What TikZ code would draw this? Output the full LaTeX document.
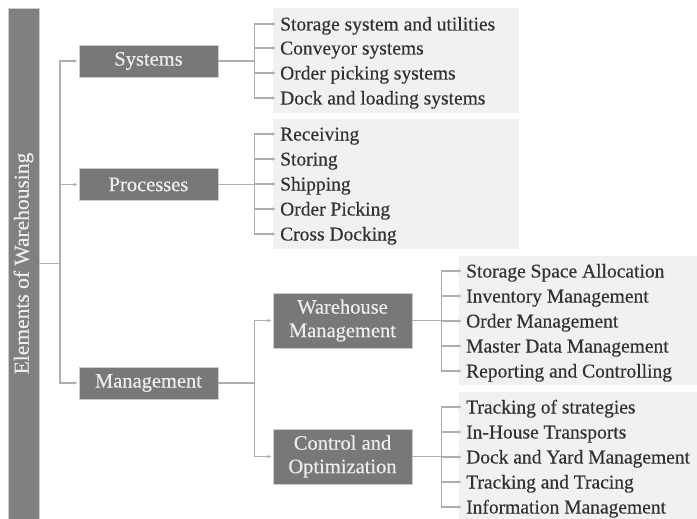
\documentclass[tikz,border=0pt]{standalone}
\usepackage{fontspec}
\setmainfont{Liberation Serif}[FakeBold=0.4]
\usetikzlibrary{positioning,arrows.meta}

\definecolor{boxgray}{RGB}{120,120,120}
\definecolor{bargray}{RGB}{128,128,128}
\definecolor{edgegray}{RGB}{205,205,205}
\definecolor{linegray}{RGB}{175,175,175}
\definecolor{panelgray}{RGB}{241,241,241}
\definecolor{textgray}{RGB}{50,50,50}

\begin{document}
\begin{tikzpicture}[x=1pt,y=-1pt]

% definizione stili
\tikzset{mybox/.style={rectangle, draw=edgegray, line width=0.8pt, fill=boxgray, text=white!93!black,
  minimum width=139pt, font=\fontsize{20.5}{23.5}\selectfont, align=center, inner sep=0pt}}
\tikzset{myitem/.style={anchor=west, inner sep=3pt, text=textgray, text height=13pt, text depth=0pt,
  font=\fontsize{19.5}{22}\selectfont}}
\tikzset{myline/.style={draw=linegray, line width=1.3pt}}
\tikzset{myarrow/.style={myline, -{Latex[length=4pt,width=3.6pt]}, shorten >=1pt}}

% area bianca
\useasboundingbox (0,0) rectangle (697,519);

% pannelli grigi chiari
\fill[panelgray] (273,8) rectangle (519,113);
\fill[panelgray] (273,119) rectangle (519,249);
\fill[panelgray] (459,256) rectangle (697,385);
\fill[panelgray] (459,392) rectangle (697,519);

% barra verticale
\node[mybox, fill=bargray, rotate=90, minimum width=511pt, minimum height=31pt,
  font=\fontsize{21.5}{24}\selectfont] (elem) at (23.5,263.5) {Elements of Warehousing};

% nodi primo livello
\node[mybox, minimum height=32pt] (sys) at (148.5,61) {Systems};
\node[mybox, minimum height=32pt] (proc) at (148.5,184.5) {Processes};
\node[mybox, minimum height=32pt] (man) at (148.5,383) {Management};

% nodi secondo livello
\node[mybox, minimum height=55pt] (wm) at (342.5,320.5) {Warehouse\\Management};
\node[mybox, minimum height=55pt] (co) at (342.5,456.5) {Control and\\Optimization};

% voci degli elenchi
\foreach \y/\n/\t in {24/s1/Storage system and utilities, 48/s2/Conveyor systems,
  73/s3/Order picking systems, 98/s4/Dock and loading systems}
\node[myitem] (\n) at (277,\y) {\t};
\foreach \y/\n/\t in {134/p1/Receiving, 159/p2/Storing, 184/p3/Shipping,
  209/p4/Order Picking, 234/p5/Cross Docking}
\node[myitem] (\n) at (277,\y) {\t};
\foreach \y/\n/\t in {271/w1/Storage Space Allocation, 296/w2/Inventory Management,
  321/w3/Order Management, 346/w4/Master Data Management, 371/w5/Reporting and Controlling}
\node[myitem] (\n) at (463,\y) {\t};
\foreach \y/\n/\t in {407/c1/Tracking of strategies, 432/c2/In-House Transports,
  457/c3/Dock and Yard Management, 482/c4/Tracking and Tracing, 507/c5/Information Management}
\node[myitem] (\n) at (463,\y) {\t};

% punti di diramazione
\coordinate (trunk) at (60,263.5);
\coordinate (sysb) at ([xshift=36pt]sys.east);
\coordinate (procb) at ([xshift=36pt]proc.east);
\coordinate (manb) at ([xshift=36pt]man.east);
\coordinate (wmb) at ([xshift=29pt]wm.east);
\coordinate (cob) at ([xshift=29pt]co.east);

% collegamenti
\draw[myline] (elem.south) -- (trunk);
\foreach \n in {sys,proc,man}
\draw[myarrow] (trunk) |- (\n.west);
\draw[myline] (sys.east) -- (sysb);
\foreach \n in {s1,s2,s3,s4}
\draw[myarrow] (sysb) |- (\n.west);
\draw[myline] (proc.east) -- (procb);
\foreach \n in {p1,p2,p3,p4,p5}
\draw[myarrow] (procb) |- (\n.west);
\draw[myline] (man.east) -- (manb);
\foreach \n in {wm,co}
\draw[myarrow] (manb) |- (\n.west);
\draw[myline] (wm.east) -- (wmb);
\foreach \n in {w1,w2,w3,w4,w5}
\draw[myarrow] (wmb) |- (\n.west);
\draw[myline] (co.east) -- (cob);
\foreach \n in {c1,c2,c3,c4,c5}
\draw[myarrow] (cob) |- (\n.west);

\end{tikzpicture}
\end{document}
